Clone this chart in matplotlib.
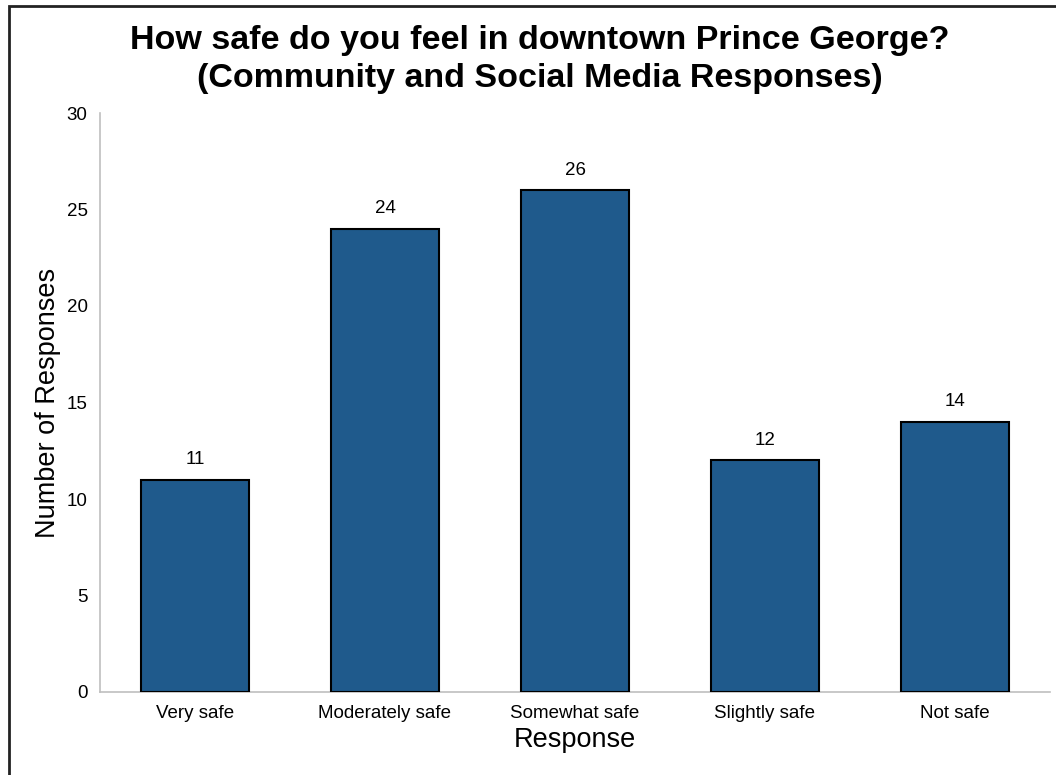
import matplotlib
matplotlib.use("Agg")
import matplotlib.pyplot as plt
from matplotlib.patches import Rectangle

categories = ["Very safe", "Moderately safe", "Somewhat safe", "Slightly safe", "Not safe"]
values = [11, 24, 26, 12, 14]
yticks = [0, 5, 10, 15, 20, 25, 30]

plt.rcParams['font.family'] = ['Liberation Sans', 'DejaVu Sans']

fig = plt.figure(figsize=(10.56, 7.75), dpi=100)
ax = fig.add_axes([100/1056, 1-692/775, 950/1056, (692-113)/775])

x = list(range(len(categories)))
bars = ax.bar(x, values, width=0.57, color="#1f5a8c", edgecolor="black", linewidth=1.5, zorder=3)
for xi, v in zip(x, values):
    ax.text(xi, v + 0.6, str(v), ha="center", va="bottom", fontsize=13.5)

ax.set_xlim(-0.5, 4.5)
ax.set_ylim(0, 30)
ax.set_yticks(yticks)
ax.set_xticks(x)
ax.set_xticklabels(categories, fontsize=13.5)
ax.tick_params(axis="both", length=0, labelsize=13.5)
ax.tick_params(axis="y", pad=9)
ax.tick_params(axis="x", pad=9)
for s in ["top", "right"]:
    ax.spines[s].set_visible(False)
for s in ["left", "bottom"]:
    ax.spines[s].set_color("#bfbfbf")
    ax.spines[s].set_linewidth(1.2)

ax.set_ylabel("Number of Responses", fontsize=19.5, labelpad=4)
ax.set_xlabel("Response", fontsize=19.5, labelpad=4)

fig.text(540/1056, 1-59.5/775, "How safe do you feel in downtown Prince George?\n(Community and Social Media Responses)",
         ha="center", va="center", fontsize=24.5, fontweight="bold", linespacing=1.25)

fig.patches.append(Rectangle((9/1056, -0.05), 1.1, 1 - 6/775 + 0.05, transform=fig.transFigure,
                             fill=False, edgecolor="#222222", linewidth=2))

fig.savefig("out.png", dpi=100)
